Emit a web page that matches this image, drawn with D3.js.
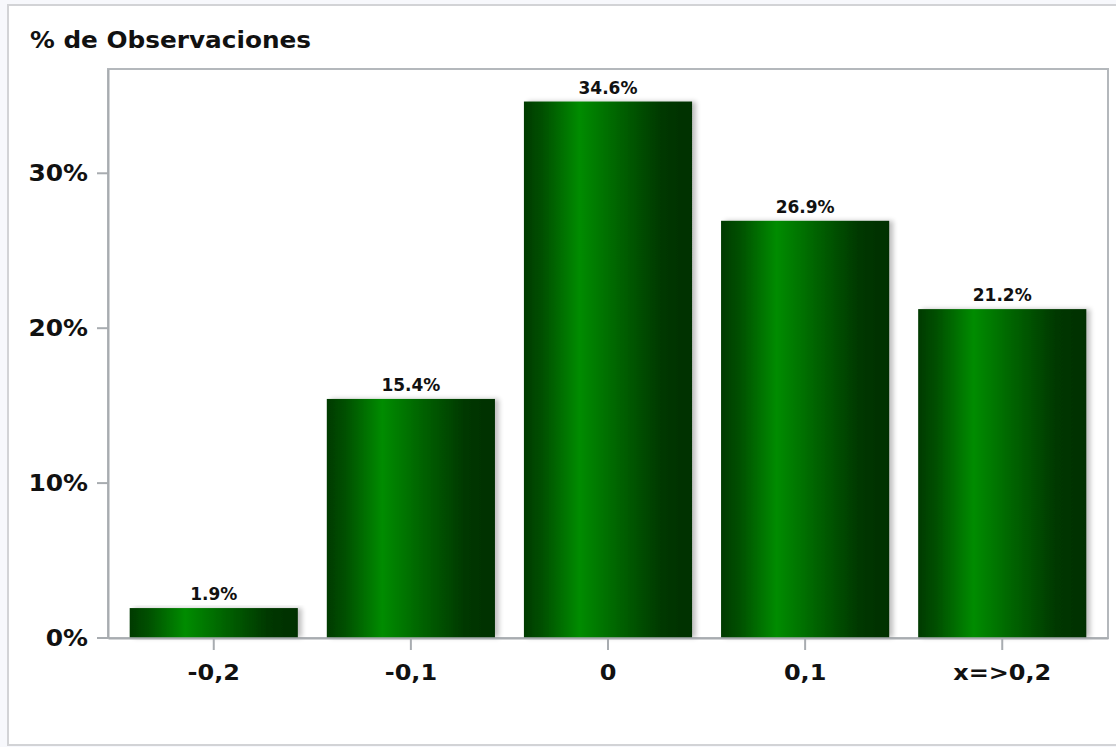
<!DOCTYPE html>
<html>
<head>
<meta charset="utf-8">
<script src="https://cdn.jsdelivr.net/npm/d3@7"></script>
<style>
  html, body { margin: 0; padding: 0; background: #f7f8fc; }
  svg { display: block; font-family: "DejaVu Sans", sans-serif; font-weight: bold; }
</style>
</head>
<body>
<div id="chart"></div>
<script>
// categories and values (% of observations)
var categories = ["-0,2", "-0,1", "0", "0,1", "x=>0,2"]
var values = [1.9, 15.4, 34.6, 26.9, 21.2]
var yTicks = [0, 10, 20, 30]

var width = 1116
var height = 747
var plot = {left: 108, right: 1108, top: 69, bottom: 638}

var svg = d3.select("#chart")
    .append("svg")
    .attr("width", width)
    .attr("height", height)

// outer panel
svg.append("rect")
    .attr("x", 8).attr("y", 5)
    .attr("width", width + 10).attr("height", 740)
    .attr("fill", "#ffffff")
    .attr("stroke", "#d2d3d6")
    .attr("stroke-width", 2)

var defs = svg.append("defs")
var grad = defs.append("linearGradient")
    .attr("id", "barGrad")
    .attr("x1", "0%").attr("x2", "100%")
    .attr("y1", "0%").attr("y2", "0%")
grad.append("stop").attr("offset", "0%").attr("stop-color", "#003a00")
grad.append("stop").attr("offset", "12%").attr("stop-color", "#005200")
grad.append("stop").attr("offset", "33%").attr("stop-color", "#008c00")
grad.append("stop").attr("offset", "57%").attr("stop-color", "#006200")
grad.append("stop").attr("offset", "82%").attr("stop-color", "#003800")
grad.append("stop").attr("offset", "100%").attr("stop-color", "#002f00")

var shadow = defs.append("filter")
    .attr("id", "shadow")
    .attr("x", "-10%").attr("y", "-10%")
    .attr("width", "130%").attr("height", "130%")
shadow.append("feGaussianBlur").attr("in", "SourceAlpha").attr("stdDeviation", 2.5)
shadow.append("feOffset").attr("dx", 4).attr("dy", 0).attr("result", "blur")
shadow.append("feComponentTransfer").append("feFuncA").attr("type", "linear").attr("slope", 0.25)
var merge = shadow.append("feMerge")
merge.append("feMergeNode")
merge.append("feMergeNode").attr("in", "SourceGraphic")

var xScale = d3.scaleBand()
    .domain(categories)
    .range([plot.left, plot.right])
    .paddingInner(0.147)
    .paddingOuter(0.11)

var yScale = d3.scaleLinear()
    .domain([0, 36.7])
    .range([plot.bottom - 0.5, plot.top])

// title (the original font is a bit wider, so stretch horizontally)
svg.append("text")
    .attr("transform", "translate(30,48) scale(1.1,1)")
    .attr("font-size", 22.5)
    .attr("fill", "#111")
    .text("% de Observaciones")

// plot frame
svg.append("rect")
    .attr("x", plot.left).attr("y", plot.top)
    .attr("width", plot.right - plot.left)
    .attr("height", plot.bottom - plot.top)
    .attr("fill", "#ffffff")
    .attr("stroke", "#b4b8bc")
    .attr("stroke-width", 2)

// bars
svg.append("g")
    .selectAll("rect")
    .data(values)
    .join("rect")
    .attr("x", (d, i) => xScale(categories[i]))
    .attr("y", d => yScale(d))
    .attr("width", xScale.bandwidth())
    .attr("height", d => yScale(0) - yScale(d))
    .attr("fill", "url(#barGrad)")
    .attr("filter", "url(#shadow)")

// value labels
svg.append("g")
    .selectAll("text")
    .data(values)
    .join("text")
    .attr("x", (d, i) => xScale(categories[i]) + xScale.bandwidth() / 2)
    .attr("y", d => yScale(d) - 8)
    .attr("text-anchor", "middle")
    .attr("font-size", 17)
    .attr("fill", "#111")
    .text(d => d.toFixed(1) + "%")

// y axis
var yAxis = svg.append("g")
    .attr("transform", "translate(" + plot.left + ",0)")
    .call(d3.axisLeft(yScale).tickValues(yTicks).tickSize(11).tickSizeOuter(0).tickPadding(8)
        .tickFormat(d => d + "%"))
yAxis.select(".domain").attr("stroke", "#a8acb0").attr("stroke-width", 2)
yAxis.selectAll(".tick line").attr("stroke", "#a8acb0").attr("stroke-width", 2)
yAxis.selectAll(".tick text")
    .attr("x", 0)
    .attr("transform", "translate(-20,0) scale(1.06,1)")
    .attr("font-family", "DejaVu Sans")
    .attr("font-weight", "bold")
    .attr("font-size", 23.5)
    .attr("fill", "#111")

// x axis
var xAxis = svg.append("g")
    .attr("transform", "translate(0," + plot.bottom + ")")
    .call(d3.axisBottom(xScale).tickSize(12).tickPadding(14).tickSizeOuter(0))
xAxis.select(".domain").attr("stroke", "#a8acb0").attr("stroke-width", 2)
xAxis.selectAll(".tick line").attr("stroke", "#a8acb0").attr("stroke-width", 2)
xAxis.selectAll(".tick text")
    .attr("transform", "scale(1.09,1)")
    .attr("font-family", "DejaVu Sans")
    .attr("font-weight", "bold")
    .attr("font-size", 22)
    .attr("fill", "#111")
</script>
</body>
</html>
